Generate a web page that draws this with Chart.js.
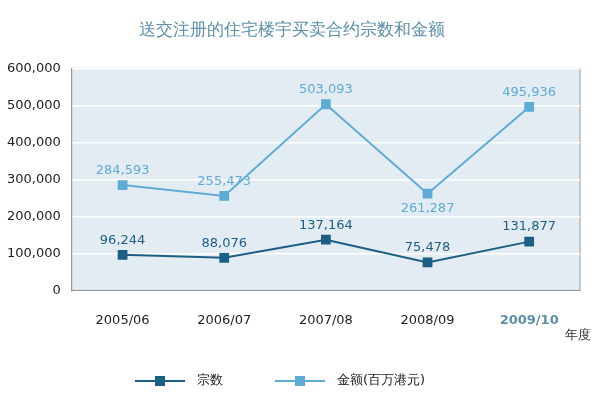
<!DOCTYPE html>
<html><head><meta charset="utf-8">
<script src="https://cdn.jsdelivr.net/npm/chart.js@4"></script>
<style>body{margin:0;background:#fff}#wrap{width:612px;height:404px}</style>
</head><body><div id="wrap"><canvas id="c"></canvas></div>
<script>
// ------------------ DATA ------------------
const years = ["2005/06", "2006/07", "2007/08", "2008/09", "2009/10"];
const deals = [96244, 88076, 137164, 75478, 131877];
const amounts = [284593, 255473, 503093, 261287, 495936];
const yTicks = [0, 100000, 200000, 300000, 400000, 500000, 600000];
const seriesNames = ["宗数", "金额(百万港元)"];

const darkBlue = "#1b5f85";
const lightBlue = "#5eabd6";
const font = "'DejaVu Sans', sans-serif";

// value labels, unit label and custom legend
const labelPlugin = {
    id: "labels",
    afterDatasetsDraw(chart) {
        const ctx = chart.ctx;
        ctx.save();
        ctx.font = "13px " + font;
        ctx.textAlign = "center";
        chart.data.datasets.forEach((ds, i) => {
            chart.getDatasetMeta(i).data.forEach((pt, j) => {
                const below = i === 1 && j === 3;
                ctx.fillStyle = ds.borderColor;
                ctx.textBaseline = below ? "top" : "bottom";
                ctx.fillText(ds.data[j].toLocaleString("en-US"), pt.x, below ? pt.y + 8 : pt.y - 8);
            });
        });
        ctx.fillStyle = "#333";
        ctx.textAlign = "left";
        ctx.textBaseline = "middle";
        ctx.fillText("年度", 565, 336);
        // legend
        const items = [[135, darkBlue], [275, lightBlue]];
        items.forEach(([x, col], i) => {
            const y = 381;
            ctx.strokeStyle = col;
            ctx.lineWidth = 2;
            ctx.beginPath(); ctx.moveTo(x, y); ctx.lineTo(x + 50, y); ctx.stroke();
            ctx.fillStyle = col;
            ctx.fillRect(x + 20, y - 5, 10, 10);
            ctx.fillStyle = "#222";
            ctx.fillText(seriesNames[i], x + 62, y);
        });
        ctx.restore();
    }
};

new Chart(document.getElementById("c"), {
    type: "line",
    data: {
        labels: years,
        datasets: [
            { label: seriesNames[0], data: deals, borderColor: darkBlue, backgroundColor: darkBlue,
              borderWidth: 2, pointStyle: "rect", pointRadius: 5.5 },
            { label: seriesNames[1], data: amounts, borderColor: lightBlue, backgroundColor: lightBlue,
              borderWidth: 2, pointStyle: "rect", pointRadius: 5.5 }
        ]
    },
    options: {
        responsive: true,
        maintainAspectRatio: false,
        animation: false,
        layout: { padding: { left: 4, right: 32, top: 4, bottom: 62 } },
        plugins: {
            title: { display: true, text: "送交注册的住宅楼宇买卖合约宗数和金额",
                     color: "#5a8faa", font: { size: 17, family: font, weight: "normal" },
                     padding: { top: 16, bottom: 28 } },
            legend: { display: false },
            tooltip: { enabled: false }
        },
        scales: {
            x: {
                offset: true,
                grid: { display: false },
                border: { color: "#999" },
                ticks: { font: ctx => ({ size: 13, family: font, weight: ctx.index === 4 ? "bold" : "normal" }),
                         color: ctx => ctx.index === 4 ? "#5a8faa" : "#222",
                         padding: 14, callback: (v, i) => years[i] }
            },
            y: {
                min: 0, max: 600000,
                afterBuildTicks: axis => { axis.ticks = yTicks.map(v => ({ value: v })); },
                grid: { color: "#ffffff", lineWidth: 1.5 },
                border: { color: "#999" },
                ticks: { color: "#222", font: { size: 13, family: font },
                         callback: v => v.toLocaleString("en-US") }
            }
        }
    },
    plugins: [labelPlugin, {
        id: "bg",
        beforeDraw(chart) {
            const a = chart.chartArea;
            chart.ctx.save();
            chart.ctx.fillStyle = "#e3ecf2";
            chart.ctx.fillRect(a.left, a.top, a.right - a.left, a.bottom - a.top);
            chart.ctx.strokeStyle = "#999";
            chart.ctx.strokeRect(a.left, a.top, a.right - a.left, a.bottom - a.top);
            chart.ctx.restore();
        }
    }]
});
</script></body></html>
